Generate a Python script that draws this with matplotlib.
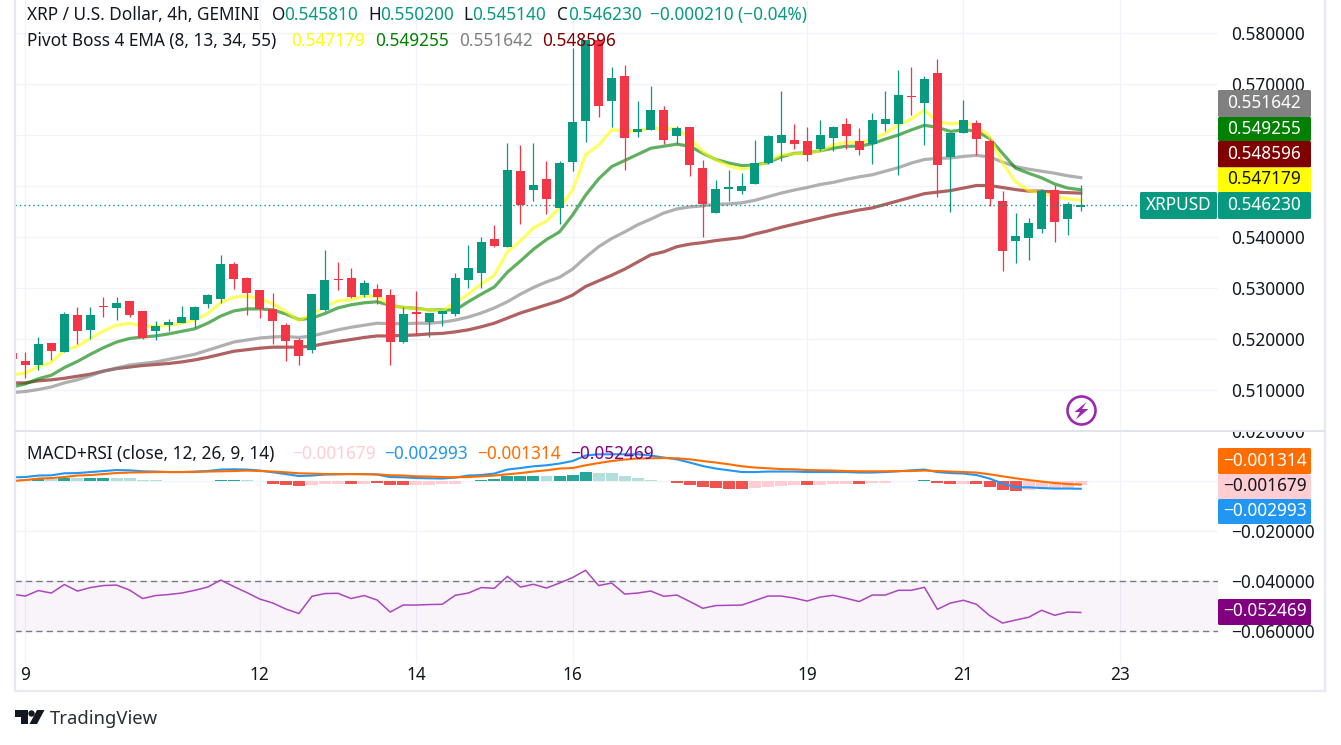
import numpy as np
import matplotlib
matplotlib.use("Agg")
import matplotlib.pyplot as plt
from matplotlib.lines import Line2D
from matplotlib.patches import FancyBboxPatch, Polygon, Circle, Rectangle
from matplotlib.transforms import Affine2D

W, H = 1341, 745
FONT = "Noto Sans"
plt.rcParams["font.family"] = [FONT, "DejaVu Sans"]

UP = "#089981"
DOWN = "#F23645"
INK = "#131722"
GRID = "#F0F3FA"
FRAME = "#E6E9F1"

# -------------------------------------------------------
# Candles: open, high, low, close (first bar sits left of the frame)
# -------------------------------------------------------
ohlc = [
    (.51725, .51760, .51560, .51608),
    (.51569, .51745, .51235, .51490), (.51490, .52039, .51392, .51902), (.51922, .51922, .51588, .51765),
    (.51745, .52529, .51745, .52490), (.52471, .52627, .51902, .52157), (.52177, .52627, .52000, .52471),
    (.52647, .52823, .52431, .52634), (.52608, .52823, .52373, .52706), (.52745, .52745, .52431, .52471),
    (.52549, .52549, .52000, .52020), (.52157, .52353, .51980, .52255), (.52275, .52392, .52157, .52333),
    (.52314, .52647, .52314, .52431), (.52373, .52647, .52216, .52627), (.52686, .52882, .52608, .52863),
    (.52784, .53647, .52706, .53471), (.53471, .53510, .52980, .53176), (.53196, .53216, .52471, .52902),
    (.52961, .52961, .52412, .52588), (.52588, .52902, .51902, .52353), (.52275, .52314, .51569, .51961),
    (.51980, .52020, .51490, .51667), (.51784, .52882, .51725, .52882), (.52569, .53745, .52549, .53157),
    (.53176, .53510, .52961, .53157), (.53196, .53392, .52804, .52823), (.52863, .53157, .52823, .53098),
    (.52980, .53078, .52686, .52823), (.52863, .52980, .51490, .51941), (.51941, .52627, .51922, .52490),
    (.52529, .52941, .52078, .52490), (.52333, .52510, .52039, .52510), (.52490, .52549, .52255, .52549),
    (.52490, .53294, .52450, .53196), (.53157, .53843, .53000, .53392), (.53294, .54000, .53000, .53902),
    (.53961, .54235, .53804, .53823), (.53804, .55843, .53804, .55314), (.55294, .55804, .54255, .54627),
    (.54922, .55843, .54706, .55020), (.55137, .55490, .54451, .54745), (.54569, .55490, .54255, .55451),
    (.55471, .57706, .55294, .56255), (.56275, .57860, .55863, .57860), (.57860, .57860, .56353, .56569),
    (.56667, .57333, .56157, .57118), (.57157, .57373, .55314, .55941), (.56059, .56667, .55961, .56118),
    (.56098, .56961, .56098, .56490), (.56490, .56569, .55824, .55902), (.55980, .56176, .55824, .56137),
    (.56157, .56157, .55196, .55412), (.55353, .55510, .54000, .54647), (.54471, .55118, .54471, .54941),
    (.54941, .55314, .54706, .54980), (.54902, .55255, .54843, .55000), (.55039, .55902, .55039, .55451),
    (.55451, .56000, .55431, .55980), (.55843, .56863, .55490, .56000), (.55902, .56216, .55725, .55823),
    (.55882, .56157, .55490, .55608), (.55725, .56294, .55686, .55999), (.55941, .56176, .55686, .56157),
    (.56216, .56333, .55725, .55980), (.55882, .56137, .55608, .55706), (.55823, .56431, .55431, .56294),
    (.56216, .56863, .56078, .56314), (.56216, .57274, .55216, .56784), (.56765, .57333, .56392, .56752),
    (.56627, .57157, .55804, .57098), (.57216, .57490, .54784, .55412), (.55569, .56039, .54490, .56039),
    (.56039, .56686, .56039, .56294), (.56235, .56294, .55608, .55921), (.55882, .55921, .54608, .54745),
    (.54706, .54902, .53333, .53725), (.53921, .54470, .53490, .54020), (.53980, .54372, .53549, .54274),
    (.54157, .54941, .54078, .54902), (.54921, .55020, .53902, .54294), (.54353, .54686, .54039, .54647),
    (.54581, .55020, .54514, .54623),
]
idx = np.arange(-1, len(ohlc) - 1)

# -------------------------------------------------------
# Pivot Boss EMAs
# -------------------------------------------------------
ema8 = [.5130,
        .5133, .5146, .5154, .5178, .5186, .5201, .5216, .5227, .5231, .5225,
        .5225, .5227, .5231, .5237, .5250, .5271, .5282, .5284, .5279, .5269,
        .5254, .5236, .5250, .5263, .5275, .5277, .5284, .5284, .5266, .5262,
        .5259, .5257, .5255, .5271, .5288, .5308, .5325, .5371, .5392, .5418,
        .5431, .5457, .5492, .5561, .5580, .5610, .5608, .5608, .5614, .5612,
        .5612, .5594, .5567, .5551, .5539, .5533, .5537, .5548, .5561, .5563,
        .5564, .5569, .5580, .5586, .5585, .5592, .5603, .5620, .5631, .5649,
        .5626, .5622, .5624, .5618, .5597, .5545, .5508, .5491, .5487, .5479,
        .5475, .547179]
ema13 = [.5106,
         .5112, .5122, .5129, .5144, .5156, .5170, .5183, .5194, .5201, .5204,
         .5206, .5210, .5215, .5220, .5231, .5245, .5255, .5259, .5259, .5257,
         .5249, .5238, .5241, .5250, .5261, .5267, .5271, .5273, .5266, .5262,
         .5260, .5257, .5257, .5257, .5273, .5288, .5302, .5331, .5353, .5376,
         .5395, .5410, .5443, .5482, .5514, .5538, .5550, .5562, .5574, .5578,
         .5582, .5578, .5564, .5552, .5545, .5540, .5541, .5546, .5557, .5564,
         .5565, .5569, .5574, .5578, .5578, .5583, .5592, .5600, .5610, .5619,
         .5615, .5607, .5610, .5608, .5593, .5564, .5535, .5525, .5516, .5504,
         .5496, .549255]
ema34 = [.5095,
         .5097, .5101, .5106, .5114, .5120, .5128, .5137, .5143, .5149, .5152,
         .5155, .5160, .5165, .5170, .5178, .5186, .5194, .5198, .5202, .5204,
         .5205, .5203, .5206, .5212, .5218, .5223, .5227, .5231, .5230, .5230,
         .5231, .5231, .5233, .5237, .5243, .5251, .5261, .5273, .5288, .5301,
         .5312, .5321, .5337, .5360, .5381, .5397, .5410, .5424, .5435, .5447,
         .5455, .5459, .5461, .5464, .5465, .5467, .5472, .5479, .5486, .5492,
         .5497, .5503, .5507, .5513, .5518, .5522, .5529, .5536, .5545, .5552,
         .5554, .5555, .5558, .5560, .5557, .5547, .5538, .5533, .5529, .5525,
         .5520, .551642]
ema55 = [.5114,
         .5114, .5118, .5120, .5123, .5127, .5131, .5137, .5142, .5145, .5148,
         .5150, .5152, .5155, .5159, .5164, .5170, .5176, .5179, .5182, .5184,
         .5184, .5184, .5186, .5191, .5195, .5199, .5203, .5206, .5206, .5207,
         .5208, .5210, .5211, .5214, .5218, .5224, .5231, .5241, .5251, .5259,
         .5267, .5275, .5286, .5303, .5314, .5325, .5337, .5351, .5365, .5371,
         .5381, .5386, .5389, .5393, .5396, .5399, .5406, .5412, .5419, .5425,
         .5431, .5437, .5443, .5448, .5453, .5457, .5464, .5471, .5478, .5485,
         .5488, .5491, .5496, .5501, .5501, .5497, .5493, .5490, .5490, .5488,
         .5487, .548596]

# -------------------------------------------------------
# MACD + RSI pane
# -------------------------------------------------------
hist = [.0007,
        .0008, .0011, .0009, .0013, .0013, .0012, .0012, .0012, .0012, .0004,
        .0004, .0001, .0001, .0002, .0002, .0004, .0004, .0004, .0001, -.0012,
        -.0016, -.0020, -.0016, -.0012, -.0009, -.0009, -.0009, -.0008, -.0016, -.0016,
        -.0016, -.0016, -.0012, -.0009, .0001, .0004, .0008, .0020, .0020, .0020,
        .0020, .0020, .0024, .0036, .0032, .0032, .0020, .0012, .0007, .0001,
        -.0008, -.0016, -.0024, -.0028, -.0032, -.0032, -.0028, -.0024, -.0020, -.0016,
        -.0016, -.0016, -.0012, -.0012, -.0012, -.0008, -.0008, .0002, .0002, .0004,
        -.0008, -.0012, -.0012, -.0012, -.0024, -.0036, -.0040, -.0036, -.0028, -.0028,
        -.0028, -.001679]
hist_shade = ("L"
              "LDLDLDDLLL"
              "LLLDDDDLLR"
              "RRPPPRPRRR"
              "PPPPDDDDDD"
              "LDDDLLLLLL"
              "RRRRRRPPPP"
              "RPPPRPPDDD"
              "RRPRRRRPPP"
              "PP")
shade_colors = {"D": "#26A69A", "L": "#B2DFDB", "R": "#EF5350", "P": "#FFCDD2"}
macd = [.0016,
        .0017, .0023, .0024, .0032, .0033, .0037, .0041, .0045, .0044, .0040,
        .0039, .0037, .0037, .0039, .0041, .0047, .0048, .0047, .0043, .0036,
        .0029, .0021, .0023, .0027, .0028, .0029, .0029, .0027, .0017, .0016,
        .0013, .0012, .0011, .0015, .0023, .0025, .0031, .0047, .0053, .0060,
        .0064, .0071, .0081, .0103, .0108, .0108, .0108, .0108, .0103, .0095,
        .0088, .0075, .0061, .0051, .0044, .0037, .0037, .0039, .0039, .0039,
        .0037, .0037, .0037, .0037, .0035, .0035, .0037, .0040, .0044, .0047,
        .0037, .0033, .0031, .0025, .0011, -.0009, -.0024, -.0024, -.0027, -.0029,
        -.0029, -.002993]
signal = [.0001,
          .0005, .0011, .0013, .0017, .0023, .0025, .0029, .0033, .0035, .0036,
          .0037, .0037, .0037, .0037, .0039, .0040, .0041, .0043, .0041, .0039,
          .0036, .0032, .0031, .0029, .0029, .0029, .0028, .0028, .0024, .0023,
          .0020, .0019, .0017, .0016, .0017, .0020, .0023, .0028, .0033, .0039,
          .0044, .0051, .0053, .0064, .0073, .0081, .0087, .0091, .0092, .0093,
          .0092, .0088, .0081, .0075, .0068, .0060, .0055, .0052, .0049, .0048,
          .0045, .0044, .0043, .0041, .0040, .0040, .0040, .0041, .0041, .0043,
          .0041, .0039, .0037, .0035, .0028, .0020, .0012, .0005, -.0001, -.0007,
          -.0011, -.001314]
rsi = [-.0452,
       -.0459, -.0437, -.0447, -.0413, -.0439, -.0425, -.0417, -.0415, -.0435, -.0469,
       -.0457, -.0453, -.0447, -.0436, -.0423, -.0395, -.0421, -.0445, -.0471, -.0487,
       -.0511, -.0529, -.0460, -.0449, -.0448, -.0469, -.0457, -.0475, -.0523, -.0495,
       -.0495, -.0493, -.0492, -.0456, -.0447, -.0425, -.0428, -.0380, -.0423, -.0412,
       -.0427, -.0407, -.0385, -.0356, -.0417, -.0407, -.0451, -.0447, -.0439, -.0460,
       -.0455, -.0481, -.0508, -.0497, -.0496, -.0495, -.0477, -.0459, -.0459, -.0467,
       -.0479, -.0463, -.0456, -.0468, -.0481, -.0455, -.0455, -.0436, -.0436, -.0424,
       -.0512, -.0487, -.0476, -.0492, -.0537, -.0567, -.0555, -.0544, -.0516, -.0536,
       -.0523, -.052469]

# -------------------------------------------------------
# Figure and panes
# -------------------------------------------------------
fig = plt.figure(figsize=(W / 100, H / 100), dpi=100, facecolor="white")
px = Affine2D().scale(1 / W, -1 / H).translate(0, 1) + fig.transFigure

PANE_L, PANE_R = 15, 1218
ax = fig.add_axes([PANE_L / W, 1 - 430 / H, (PANE_R - PANE_L) / W, 430 / H])
ax2 = fig.add_axes([PANE_L / W, 1 - 663 / H, (PANE_R - PANE_L) / W, (663 - 431) / H])

xlim = ((PANE_L - 25.3) / 13.03, (PANE_R - 25.3) / 13.03)
date_pos = [0, 18, 30, 42, 60, 72, 84]
date_lab = ["9", "12", "14", "16", "19", "21", "23"]

for a in (ax, ax2):
    a.set_xlim(*xlim)
    a.set_axisbelow(True)
    a.grid(True, color=GRID, linewidth=0.85)
    for s in a.spines.values():
        s.set_visible(False)
    a.yaxis.tick_right()
    a.set_xticks(date_pos)
    a.tick_params(length=0, labelsize=12.4, labelcolor=INK, pad=9.4)

ax.set_ylim(.58 - 397 / 5100, .58 + 33 / 5100)
price_ticks = [.51, .52, .53, .54, .55, .56, .57, .58]
ax.set_yticks(price_ticks)
# .55 and .56 sit behind the price flags in the original
ax.set_yticklabels(["" if v in (.55, .56) else f"{v:.6f}" for v in price_ticks])
ax.tick_params(axis="x", labelbottom=False)

ax2.set_ylim((481.3 - 663) / 2500, (481.3 - 431) / 2500)
ticks2 = [.02, 0, -.02, -.04, -.06]
ax2.set_yticks(ticks2)
ax2.set_yticklabels(["" if v == 0 else f"{v:.6f}".replace("-", "\u2212") for v in ticks2])
ax2.set_xticklabels(date_lab)
ax2.tick_params(axis="x", pad=2)

# EMAs under the candles
for series, col in [(ema55, "#800000"), (ema34, "#808080"), (ema13, "#008000"), (ema8, "#FFFF00")]:
    ax.plot(idx, series, color=col, alpha=0.62, linewidth=2.3, zorder=2, solid_joinstyle="round")

# candles
o, h, l, c = np.array(ohlc).T
cols = [UP if cc >= oo else DOWN for oo, cc in zip(o, c)]
ax.vlines(idx, l, h, colors=cols, linewidth=0.9, zorder=3)
ax.bar(idx, np.abs(c - o), bottom=np.minimum(o, c), width=0.69, color=cols, linewidth=0, zorder=4)
ax.axhline(c[-1], color=UP, linewidth=1, linestyle=(0, (1, 2.2)), zorder=5)

# MACD
ax2.bar(idx, hist, width=0.92, color=[shade_colors[s] for s in hist_shade], linewidth=0, zorder=2)
ax2.plot(idx, macd, color="#2196F3", linewidth=1.5, zorder=3)
ax2.plot(idx, signal, color="#FF6D00", linewidth=1.5, zorder=4)

# RSI band
ax2.axhspan(-.06, -.04, color="#9C27B0", alpha=0.05, linewidth=0, zorder=1)
for lvl in (-.04, -.06):
    ax2.axhline(lvl, color="#787B86", linewidth=1, linestyle=(0, (4.5, 3)), zorder=2)
ax2.plot(idx, rsi, color="#AB47BC", linewidth=1.1, zorder=3)


# -------------------------------------------------------
# Pixel-placed furniture
# -------------------------------------------------------
def text(x, y, s, color=INK, size=12.4, ha="left", **kw):
    fig.text(x, y, s, transform=px, color=color, fontsize=size, ha=ha, va="center", zorder=20, **kw)


def flag(x0, x1, y0, y1, col, label, tcol="white"):
    fig.add_artist(FancyBboxPatch((x0 + 1, y0 + 1), x1 - x0 - 2, y1 - y0 - 2, boxstyle="round,pad=1,rounding_size=1.5",
                                  transform=px, facecolor=col, edgecolor="none", zorder=15))
    text((x0 + x1) / 2, (y0 + y1) / 2 - 0.5, label, color=tcol, ha="center")


# frame
frame = [((15, 0), (15, 691)), ((15, 691), (1325, 691)), ((1325, 0), (1325, 691))]
for (x0, y0), (x1, y1) in frame:
    fig.add_artist(Line2D([x0, x1], [y0, y1], transform=px, color=FRAME, linewidth=1.6, zorder=12))
fig.add_artist(Rectangle((1219, 415), 105, 15, transform=px, facecolor="white", edgecolor="none", zorder=11))
fig.add_artist(Line2D([15, 1325], [430.5, 430.5], transform=px, color="#E0E3EB", linewidth=1.4, zorder=12))

# price flags
flag(1218, 1311, 90, 117, "#808080", "0.551642")
flag(1218, 1311, 117, 141, "#008000", "0.549255")
flag(1218, 1311, 141, 167.5, "#800000", "0.548596")
flag(1218, 1311, 167.5, 192, "#FFFF00", "0.547179", INK)
flag(1218, 1311, 192, 219, UP, "0.546230")
flag(1140, 1217, 192, 219, UP, "XRPUSD")
flag(1218, 1311, 448, 474, "#FF6D00", "\u22120.001314")
flag(1218, 1311, 474, 499, "#FFCDD2", "\u22120.001679", INK)
flag(1218, 1311, 499, 524, "#2196F3", "\u22120.002993")
flag(1218, 1311, 599, 625, "#800080", "\u22120.052469")

# legends
text(27, 15, "XRP / U.S. Dollar, 4h, GEMINI")
for lx, vx, a_lab, val in [(272, 284, "O", "0.545810"), (368, 380, "H", "0.550200"),
                           (463, 472, "L", "0.545140"), (557, 568, "C", "0.546230")]:
    text(lx, 15, a_lab)
    text(vx, 15, val, color=UP)
text(650, 15, "\u22120.000210 (\u22120.04%)", color=UP)

text(27, 41, "Pivot Boss 4 EMA (8, 13, 34, 55)")
text(291, 41, "0.547179", color="#FFFF00")
text(375, 41, "0.549255", color="#008000")
text(459, 41, "0.551642", color="#808080")
text(542, 41, "0.548596", color="#800000")

text(27, 454, "MACD+RSI (close, 12, 26, 9, 14)")
text(292, 454, "\u22120.001679", color="#FFCDD2")
text(384, 454, "\u22120.002993", color="#2196F3")
text(477, 454, "\u22120.001314", color="#FF6D00")
text(570, 454, "\u22120.052469", color="#800080")

# bolt badge
fig.add_artist(Circle((1081.5, 410.5), 14, transform=px, facecolor="white", edgecolor="#9C27B0", linewidth=1.9, zorder=14))
fig.add_artist(Polygon([(1086.5, 402), (1074.5, 412), (1080, 412), (1076, 419.5), (1088.5, 409), (1082, 409)],
                       transform=px, facecolor="#9C27B0", edgecolor="none", zorder=15))

# TradingView mark
fig.add_artist(Polygon([(15, 710), (28, 710), (28, 724), (21, 724), (21, 717), (15, 717)],
                       transform=px, facecolor=INK, edgecolor="none", zorder=15))
fig.add_artist(Circle((31.5, 713.5), 3.2, transform=px, facecolor=INK, edgecolor="none", zorder=15))
fig.add_artist(Polygon([(37, 710), (44.5, 710), (37, 724), (29.5, 724)],
                       transform=px, facecolor=INK, edgecolor="none", zorder=15))
text(50, 719, "TradingView", color="#2A2E39", size=13.3)

fig.savefig("out.png", dpi=100)
